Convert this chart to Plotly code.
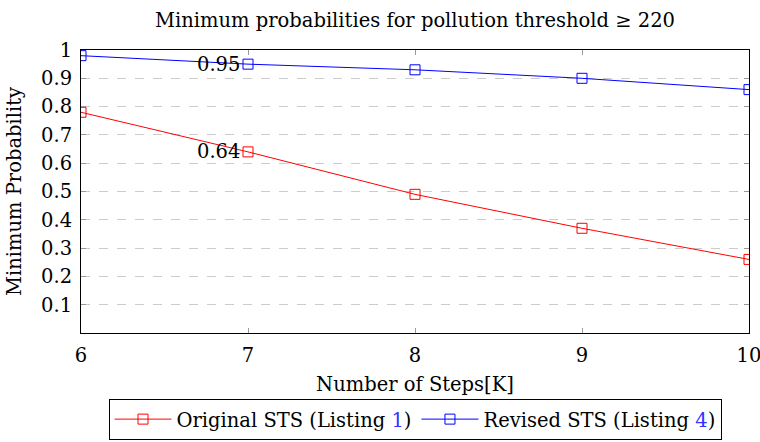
import plotly.graph_objects as go

steps = [6, 7, 8, 9, 10]
original = [0.78, 0.64, 0.49, 0.37, 0.26]
revised = [0.98, 0.95, 0.93, 0.90, 0.86]
ytick_vals = [0.1, 0.2, 0.3, 0.4, 0.5, 0.6, 0.7, 0.8, 0.9, 1.0]
ytick_text = ["0.1", "0.2", "0.3", "0.4", "0.5", "0.6", "0.7", "0.8", "0.9", "1"]
xtick_vals = [6, 7, 8, 9, 10]

FONT = "DejaVu Serif"
FS = 19.5

fig = go.Figure()
fig.add_trace(go.Scatter(
    x=steps, y=original, mode="lines+markers",
    name="Original STS (Listing <span style='color:#3333ff'>1</span>)",
    line=dict(color="#ff0000", width=1),
    marker=dict(symbol="square-open", size=10, color="#ff0000", line=dict(width=1)),
))
fig.add_trace(go.Scatter(
    x=steps, y=revised, mode="lines+markers",
    name="Revised STS (Listing <span style='color:#3333ff'>4</span>)",
    line=dict(color="#0000ff", width=1),
    marker=dict(symbol="square-open", size=10, color="#0000ff", line=dict(width=1)),
))

fig.add_annotation(x=steps[1], y=revised[1], text=f"{revised[1]:.2f}", showarrow=False,
                   xanchor="right", xshift=-6, font=dict(family=FONT, size=FS, color="black"))
fig.add_annotation(x=steps[1], y=original[1], text=f"{original[1]:.2f}", showarrow=False,
                   xanchor="right", xshift=-6, font=dict(family=FONT, size=FS, color="black"))

fig.update_layout(
    width=760, height=442,
    margin=dict(l=81, r=11, t=50, b=109, autoexpand=False),
    paper_bgcolor="white", plot_bgcolor="white",
    font=dict(family=FONT, size=FS, color="black"),
    title=dict(text="Minimum probabilities for pollution threshold ≥ 220",
               x=0.5, xref="paper", y=1 - 20 / 442, yref="container",
               xanchor="center", yanchor="middle",
               font=dict(family=FONT, size=FS, color="black")),
    showlegend=True,
    legend=dict(orientation="h", x=0.5, xanchor="center", y=-0.233, yanchor="top",
                bordercolor="black", borderwidth=1, bgcolor="white",
                font=dict(family=FONT, size=FS, color="black"),
                itemwidth=57),
)
fig.update_xaxes(
    range=[6, 10], tickvals=xtick_vals, ticks="inside", ticklen=5, tickcolor="#999999",
    showline=True, linecolor="black", linewidth=1, mirror="allticks",
    showgrid=False, zeroline=False, ticklabelstandoff=5, ticklabeloverflow="allow",
    title=dict(text="Number of Steps[K]", standoff=10, font=dict(family=FONT, size=FS)),
)
fig.update_yaxes(
    range=[0, 1], tickvals=ytick_vals, ticktext=ytick_text, ticks="inside", ticklen=5,
    tickcolor="#999999", showline=True, linecolor="black", linewidth=1, mirror="allticks",
    showgrid=True, gridcolor="#cccccc", griddash="dash", gridwidth=1, zeroline=False,
    ticklabelstandoff=4,
    title=dict(text="Minimum Probability", standoff=14, font=dict(family=FONT, size=FS)),
)

fig.write_html("out.html")
